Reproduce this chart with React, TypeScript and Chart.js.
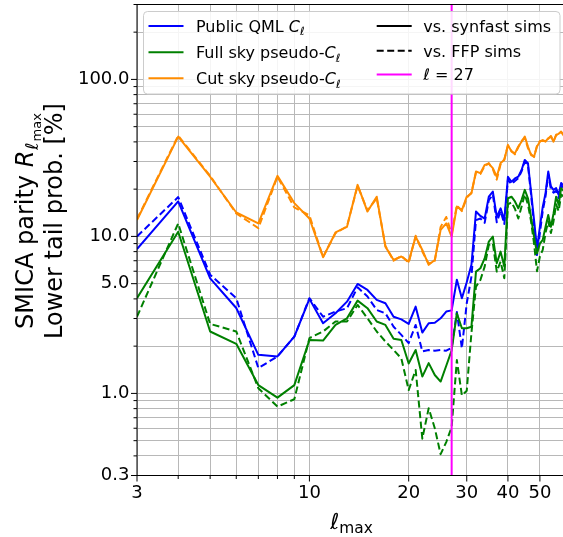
import React, { useEffect, useRef } from 'react';
import { Chart, registerables } from 'chart.js';

Chart.register(...registerables);

// ---------------- data ----------------
const ELL = [
  3, 4, 5, 6, 7, 8, 9, 10, 11, 12,
  13, 14, 15, 16, 17, 18, 19, 20, 21, 22,
  23, 24, 25, 26, 27, 28, 29, 30, 31, 32,
  33, 34, 35, 36, 37, 38, 39, 40, 41, 42,
  43, 44, 45, 46, 47, 48, 49, 50, 51, 52,
  53, 54, 55, 56, 57, 58, 59, 60,
];

const QML_SYNFAST = [
  8.3, 16.7, 5.4, 3.5, 1.76, 1.72, 2.3, 4.0, 2.8, 3.24,
  3.84, 4.98, 4.56, 3.94, 3.75, 3.08, 2.96, 2.77, 3.57, 2.44,
  2.8, 2.82, 3.01, 3.32, 3.38, 5.3, 4.04, 5.1, 6.6, 14.4,
  13.5, 13.0, 17.9, 19.3, 13.3, 15.1, 12.7, 24.0, 22.3, 23.4,
  24.0, 26.5, 30.7, 29.3, 19.3, 12.7, 8.4, 11.5, 15.4, 18.8,
  25.9, 20.8, 19.8, 20.3, 18.4, 21.9, 21.0, 22.0,
];
const QML_FFP = [
  10.0, 17.8, 5.7, 4.04, 1.45, 1.72, 2.3, 4.04, 3.08, 3.32,
  3.49, 4.74, 4.14, 3.4, 3.24, 2.66, 2.36, 2.09, 2.73, 1.85,
  1.89, 1.87, 1.89, 1.87, 1.95, 3.3, 1.94, 3.75, 5.55, 12.7,
  13.0, 12.2, 17.0, 18.5, 12.3, 14.5, 12.0, 23.0, 21.5, 22.5,
  23.5, 26.0, 30.0, 28.5, 18.5, 11.8, 7.6, 10.5, 14.5, 18.0,
  25.0, 20.0, 19.0, 19.5, 17.5, 21.0, 20.5, 21.5,
];
const FULL_SYNFAST = [
  4.04, 10.7, 2.48, 2.07, 1.13, 0.94, 1.13, 2.19, 2.17, 2.73,
  3.01, 3.9, 3.49, 2.87, 2.73, 2.23, 2.19, 1.55, 1.89, 1.28,
  1.56, 1.31, 1.19, 1.5, 1.88, 3.24, 2.6, 2.6, 2.66, 5.97,
  6.27, 7.24, 9.27, 9.97, 6.74, 8.0, 6.42, 17.5, 17.9, 16.7,
  15.1, 17.1, 19.8, 17.5, 13.3, 9.97, 7.8, 9.0, 9.5, 11.5,
  13.7, 11.5, 14.0, 17.9, 15.9, 20.3, 19.5, 21.0,
];
const FULL_FFP = [
  3.08, 12.1, 2.77, 2.48, 1.08, 0.824, 0.918, 2.25, 2.48, 2.87,
  2.87, 3.66, 3.01, 2.48, 2.14, 1.89, 1.67, 1.05, 1.41, 0.515,
  0.805, 0.6, 0.41, 0.49, 0.61, 1.63, 0.97, 1.04, 2.43, 4.79,
  5.28, 6.42, 8.82, 9.04, 5.97, 6.91, 5.42, 16.0, 16.5, 15.0,
  13.0, 15.5, 18.5, 16.0, 12.5, 9.0, 6.0, 7.45, 8.2, 10.5,
  12.5, 10.5, 12.5, 16.0, 14.5, 18.5, 18.0, 19.5,
];
const CUT_SYNFAST = [
  12.7, 43.2, 24.0, 14.2, 12.1, 24.3, 16.3, 13.0, 7.37, 10.6,
  11.5, 21.3, 14.4, 17.9, 8.61, 7.08, 7.45, 6.91, 9.97, 8.2,
  6.59, 7.08, 11.0, 12.1, 9.97, 15.5, 14.7, 17.9, 18.8, 25.9,
  25.3, 28.5, 29.0, 27.2, 24.0, 29.3, 30.7, 38.3, 34.7, 33.8,
  37.4, 40.1, 43.2, 37.4, 33.0, 32.3, 37.4, 40.1, 41.1, 40.1,
  42.2, 43.2, 40.1, 44.4, 45.0, 46.5, 44.0, 46.0,
];
const CUT_FFP = [
  12.9, 43.8, 24.3, 14.0, 11.3, 24.0, 15.3, 13.6, 7.4, 10.5,
  11.6, 21.0, 14.6, 17.5, 8.7, 7.0, 7.5, 6.8, 10.1, 8.0,
  6.7, 7.0, 11.5, 13.3, 10.4, 15.8, 14.5, 17.6, 19.0, 25.5,
  25.0, 28.0, 29.3, 26.8, 23.0, 28.8, 31.0, 37.8, 35.0, 33.3,
  37.0, 40.5, 42.5, 36.5, 33.4, 32.0, 37.8, 40.5, 40.6, 40.5,
  41.8, 43.6, 40.5, 44.0, 45.3, 46.0, 44.5, 45.5,
];

const ELL_MARK = 27;

const X_MIN = 3;
const X_MAX = 60;
const Y_MIN = 0.3;
const Y_MAX = 300;

const X_TICK_LABELS = [3, 10, 20, 30, 40, 50];
const Y_TICK_LABELS = [0.3, 1, 5, 10, 100];

// ---------------- styling ----------------
const FAM = '"DejaVu Sans", sans-serif';
const F = (size: number, italic = false) => `${italic ? 'italic ' : ''}${size}px ${FAM}`;
const BLUE = '#0000ff';
const GREEN = '#008000';
const ORANGE = '#ff8c00';
const MAGENTA = '#ff00ff';
const DASH = [7, 3.5];
const GRID = '#b8b8b8';

function near(a: number, b: number) {
  return Math.abs(a - b) < 1e-6 * Math.max(1, Math.abs(b));
}

// log gridline positions (1..9 x 10^n) within range
function logGrid(min: number, max: number) {
  const out: number[] = [];
  for (let e = Math.floor(Math.log10(min)); e <= Math.ceil(Math.log10(max)); e++) {
    for (let m = 1; m <= 9; m++) {
      const v = parseFloat((m * Math.pow(10, e)).toPrecision(6));
      if (v >= min - 1e-9 && v <= max + 1e-9) out.push(v);
    }
  }
  return out;
}

type Part = { t: string; f: string; dy?: number; gap?: number };

function richWidth(ctx: CanvasRenderingContext2D, parts: Part[]) {
  let w = 0;
  for (const p of parts) {
    ctx.font = p.f;
    w += ctx.measureText(p.t).width + (p.gap || 0);
  }
  return w;
}

function drawRich(ctx: CanvasRenderingContext2D, parts: Part[], x: number, y: number, align: 'left' | 'center') {
  let cx = align === 'center' ? x - richWidth(ctx, parts) / 2 : x;
  ctx.textAlign = 'left';
  ctx.textBaseline = 'alphabetic';
  for (const p of parts) {
    ctx.font = p.f;
    cx += p.gap || 0;
    ctx.fillText(p.t, cx, y + (p.dy || 0));
    cx += ctx.measureText(p.t).width;
  }
}

const decorPlugin = {
  id: 'decor',
  afterDraw(chart: any) {
    const { ctx, chartArea: ca, scales } = chart;
    const xs = scales.x;
    const ys = scales.y;
    ctx.save();

    // spines
    ctx.strokeStyle = '#000';
    ctx.lineWidth = 1;
    ctx.setLineDash([]);
    ctx.strokeRect(ca.left, ca.top, ca.right - ca.left, ca.bottom - ca.top);

    // tick marks
    ctx.beginPath();
    for (const t of xs.ticks) {
      const px = xs.getPixelForValue(t.value);
      const major = X_TICK_LABELS.some((v) => near(v, t.value));
      ctx.moveTo(px, ca.bottom);
      ctx.lineTo(px, ca.bottom + (major ? 6 : 3.5));
    }
    for (const t of ys.ticks) {
      const py = ys.getPixelForValue(t.value);
      const major = Y_TICK_LABELS.some((v) => near(v, t.value));
      ctx.moveTo(ca.left, py);
      ctx.lineTo(ca.left - (major ? 6 : 3.5), py);
    }
    ctx.stroke();

    ctx.fillStyle = '#000';
    // x title
    const xc = (ca.left + ca.right) / 2;
    drawRich(
      ctx,
      [
        { t: 'ℓ', f: F(22, true) },
        { t: 'max', f: F(15.4), dy: 4 },
      ],
      xc,
      529,
      'center'
    );

    // y title (two lines, rotated)
    const yc = 221;
    const line1: Part[] = [
      { t: 'SMICA parity ', f: F(24) },
      { t: 'R', f: F(24, true) },
      { t: 'ℓ', f: F(17.5, true), dy: 5, gap: 1 },
      { t: 'max', f: F(13), dy: 8, gap: 1 },
    ];
    const line2: Part[] = [{ t: 'Lower tail prob. [%]', f: F(24) }];
    ctx.save();
    ctx.translate(24, yc);
    ctx.rotate(-Math.PI / 2);
    drawRich(ctx, line1, 0, 8.5, 'center');
    ctx.restore();
    ctx.save();
    ctx.translate(53, yc);
    ctx.rotate(-Math.PI / 2);
    drawRich(ctx, line2, 0, 8.5, 'center');
    ctx.restore();

    // legend
    const lx = ca.left + 6.5;
    const ly = ca.top + 7;
    const lw = 560 - lx;
    const lh = 94 - ly;
    ctx.beginPath();
    ctx.roundRect(lx, ly, lw, lh, 4);
    ctx.fillStyle = 'rgba(255,255,255,0.85)';
    ctx.fill();
    ctx.strokeStyle = '#cccccc';
    ctx.lineWidth = 1;
    ctx.stroke();

    const handle = (x0: number, y: number, color: string, dashed: boolean) => {
      ctx.beginPath();
      ctx.strokeStyle = color;
      ctx.lineWidth = 2;
      ctx.setLineDash(dashed ? DASH : []);
      ctx.moveTo(x0, y);
      ctx.lineTo(x0 + 35, y);
      ctx.stroke();
      ctx.setLineDash([]);
    };

    const c1h = lx + 5;
    const c1t = lx + 52.5;
    const rows1 = [26, 52.3, 78.3];
    const cl: Part[] = [
      { t: 'C', f: F(16, true) },
      { t: 'ℓ', f: F(11.2, true), dy: 3.5 },
    ];
    handle(c1h, rows1[0], BLUE, false);
    handle(c1h, rows1[1], GREEN, false);
    handle(c1h, rows1[2], ORANGE, false);
    ctx.fillStyle = '#000';
    drawRich(ctx, [{ t: 'Public QML ', f: F(16) }, ...cl], c1t, rows1[0] + 5.8, 'left');
    drawRich(ctx, [{ t: 'Full sky pseudo-', f: F(16) }, ...cl], c1t, rows1[1] + 5.8, 'left');
    drawRich(ctx, [{ t: 'Cut sky pseudo-', f: F(16) }, ...cl], c1t, rows1[2] + 5.8, 'left');

    const c2h = 376.7;
    const c2t = 423.3;
    const rows2 = [26, 50.7, 74.5];
    handle(c2h, rows2[0], '#000', false);
    handle(c2h, rows2[1], '#000', true);
    handle(c2h, rows2[2], MAGENTA, false);
    ctx.fillStyle = '#000';
    drawRich(ctx, [{ t: 'vs. synfast sims', f: F(16) }], c2t, rows2[0] + 5.8, 'left');
    drawRich(ctx, [{ t: 'vs. FFP sims', f: F(16) }], c2t, rows2[1] + 5.8, 'left');
    drawRich(
      ctx,
      [
        { t: 'ℓ', f: F(16, true) },
        { t: ' = 27', f: F(16) },
      ],
      c2t,
      rows2[2] + 5.8,
      'left'
    );

    ctx.restore();
  },
};

function series(values: number[]) {
  return ELL.map((l, i) => ({ x: l, y: values[i] }));
}

export default function App() {
  const ref = useRef<HTMLCanvasElement | null>(null);

  useEffect(() => {
    const canvas = ref.current;
    if (!canvas) return;

    const mk = (label: string, vals: number[], color: string, dashed: boolean, order: number) => ({
      label,
      data: series(vals),
      borderColor: color,
      backgroundColor: color,
      borderWidth: 2,
      borderDash: dashed ? DASH : [],
      pointRadius: 0,
      pointHoverRadius: 0,
      tension: 0,
      fill: false,
      borderJoinStyle: 'round' as const,
      order,
    });

    const chart = new Chart(canvas, {
      type: 'line',
      data: {
        datasets: [
          {
            label: 'ell=27',
            data: [
              { x: ELL_MARK, y: Y_MIN },
              { x: ELL_MARK, y: Y_MAX },
            ],
            borderColor: MAGENTA,
            backgroundColor: MAGENTA,
            borderWidth: 2,
            pointRadius: 0,
            order: 0,
          },
          mk('Cut sky FFP', CUT_FFP, ORANGE, true, 1),
          mk('Cut sky synfast', CUT_SYNFAST, ORANGE, false, 2),
          mk('Full sky FFP', FULL_FFP, GREEN, true, 3),
          mk('Full sky synfast', FULL_SYNFAST, GREEN, false, 4),
          mk('QML FFP', QML_FFP, BLUE, true, 5),
          mk('QML synfast', QML_SYNFAST, BLUE, false, 6),
        ] as any,
      },
      options: {
        responsive: false,
        maintainAspectRatio: false,
        devicePixelRatio: 1,
        animation: false,
        layout: { padding: { top: 4.5, left: 0, right: 0, bottom: 0 } },
        plugins: {
          legend: { display: false },
          tooltip: { enabled: false },
        },
        scales: {
          x: {
            type: 'logarithmic',
            min: X_MIN,
            max: X_MAX,
            afterBuildTicks: (s: any) => {
              s.ticks = logGrid(X_MIN, X_MAX).map((v) => ({ value: v }));
            },
            afterFit: (s: any) => {
              s.height = 61.5;
              s.paddingLeft = 0;
              s.paddingRight = 0;
            },
            grid: { color: GRID, lineWidth: 1, drawTicks: false },
            border: { display: false },
            ticks: {
              autoSkip: false,
              maxRotation: 0,
              minRotation: 0,
              padding: 7,
              color: '#000',
              font: { family: FAM, size: 18 },
              callback: (v: any) => {
                const n = Number(v);
                const hit = X_TICK_LABELS.find((t) => near(t, n));
                return hit !== undefined ? String(hit) : '';
              },
            },
          },
          y: {
            type: 'logarithmic',
            min: Y_MIN,
            max: Y_MAX,
            afterBuildTicks: (s: any) => {
              s.ticks = logGrid(Y_MIN, Y_MAX).map((v) => ({ value: v }));
            },
            afterFit: (s: any) => {
              s.width = 137;
              s.paddingTop = 0;
              s.paddingBottom = 0;
            },
            grid: { color: GRID, lineWidth: 1, drawTicks: false },
            border: { display: false },
            ticks: {
              autoSkip: false,
              padding: 7.5,
              color: '#000',
              font: { family: FAM, size: 18 },
              callback: (v: any) => {
                const n = Number(v);
                const hit = Y_TICK_LABELS.find((t) => near(t, n));
                return hit !== undefined ? hit.toFixed(1) : '';
              },
            },
          },
        },
      } as any,
      plugins: [decorPlugin],
    });

    return () => chart.destroy();
  }, []);

  return (
    <div
      style={{
        position: 'fixed',
        left: 0,
        top: 0,
        width: 563,
        height: 537,
        overflow: 'hidden',
        background: '#fff',
      }}
    >
      <canvas ref={ref} width={566} height={537} style={{ display: 'block', width: 566, height: 537 }} />
    </div>
  );
}
